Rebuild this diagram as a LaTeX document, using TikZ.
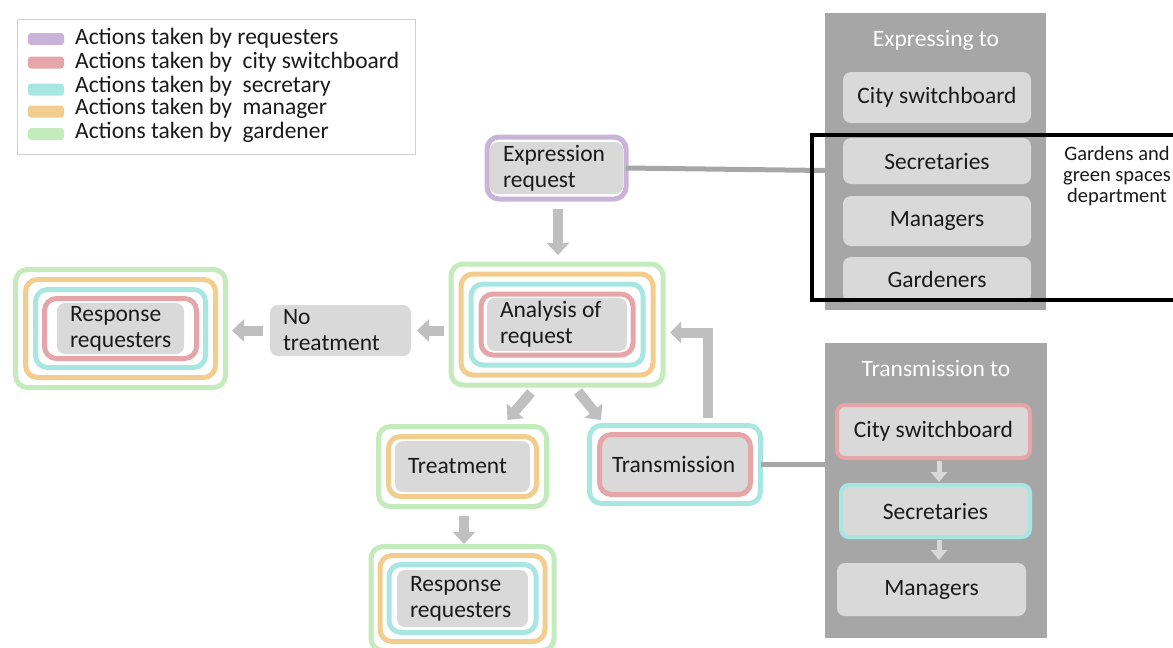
\documentclass[tikz,border=0pt]{standalone}
\usepackage{fontspec}
\setmainfont{Carlito}
\usetikzlibrary{arrows.meta,fit}
\definecolor{cPurple}{HTML}{C9B3D9}
\definecolor{cRed}{HTML}{E6A5A8}
\definecolor{cCyan}{HTML}{A8E6E2}
\definecolor{cOrange}{HTML}{F2CD8D}
\definecolor{cGreen}{HTML}{C4EBBB}
\definecolor{boxgray}{HTML}{D9D9D9}
\definecolor{panelgray}{HTML}{A6A6A6}
\definecolor{arrowgray}{HTML}{BFBFBF}
\definecolor{legendline}{HTML}{D0D0D0}
\definecolor{txt}{HTML}{1A1A1A}
\newcommand\fsMain{\fontsize{23.5}{26}\selectfont}
\newcommand\fsSmall{\fontsize{20.5}{21}\selectfont}
\begin{document}
\begin{tikzpicture}[x=1pt,y=-1pt,font=\fsMain,text=txt,
  gbox/.style={fill=boxgray, rounded corners=8pt, outer sep=0pt, inner ysep=0pt, inner xsep=13pt, align=flush left},
  pbox/.style={fill=boxgray, rounded corners=8pt, outer sep=0pt, inner sep=0pt, minimum width=188pt, align=center},
  ring/.style={draw=#1, line width=5pt, rounded corners=12pt, outer sep=0pt},
  panel/.style={fill=panelgray, outer sep=0pt, inner sep=0pt},
  swatch/.style={fill=#1, rounded corners=3pt, minimum width=36pt, minimum height=12pt, inner sep=0pt},
  legtext/.style={anchor=base west, inner sep=0pt},
  barrow/.style={draw=arrowgray, line width=10pt, -{Triangle[width=22pt,length=12pt]}},
  parrow/.style={draw=boxgray, line width=5pt, -{Triangle[width=16pt,length=10pt]}},
  conn/.style={draw=panelgray, line width=5pt}]
\useasboundingbox (0,0) rectangle (1173,648);

% ---------- legend ----------
\node[draw=legendline, line width=1pt, minimum width=398pt, minimum height=135pt, inner sep=0pt] (legend) at (216,86.5) {};
\node[swatch=cPurple] (sw1) at (46,39) {};
\node[swatch=cRed] (sw2) at (46,62.5) {};
\node[swatch=cCyan] (sw3) at (46,89.5) {};
\node[swatch=cOrange] (sw4) at (46,111.5) {};
\node[swatch=cGreen] (sw5) at (46,134) {};
\node[legtext] (lt1) at (75,44) {Actions taken by requesters};
\node[legtext] (lt2) at (75,68) {Actions taken by~ city switchboard};
\node[legtext] (lt3) at (75,92) {Actions taken by~ secretary};
\node[legtext] (lt4) at (75,114) {Actions taken by~ manager};
\node[legtext] (lt5) at (75,138) {Actions taken by~ gardener};

% ---------- right panels ----------
\node[panel, minimum width=221pt, minimum height=297pt] (expPanel) at (935.5,161.5) {};
\node[text=white, anchor=base] (expTitle) at (936,46) {Expressing to};
\node[pbox, minimum height=51pt] (eCity) at (937,97.5) {City switchboard};
\node[pbox, minimum height=46pt] (eSec) at (937,161) {Secretaries};
\node[pbox, minimum height=50pt] (eMan) at (937,221) {Managers};
\node[pbox, minimum height=45pt] (eGar) at (937,279.5) {Gardeners};

\node[panel, minimum width=222pt, minimum height=295pt] (trPanel) at (936,490.5) {};
\node[text=white, anchor=base] (trTitle) at (936,376) {Transmission to};
\node[pbox, draw=cRed, line width=4pt, minimum width=193pt, minimum height=53pt] (tCity) at (933.5,431.5) {City switchboard};
\node[pbox, draw=cCyan, line width=4pt, minimum width=189pt, minimum height=52pt] (tSec) at (935.5,511) {Secretaries};
\node[pbox, minimum width=189pt, minimum height=53pt] (tMan) at (931.5,589.5) {Managers};
\draw[parrow] ([xshift=5.5pt,yshift=-3pt]tCity.south) -- ([xshift=3.5pt,yshift=3pt]tSec.north);
\draw[parrow] ([xshift=3.5pt,yshift=-3pt]tSec.south) -- ([xshift=7.5pt,yshift=3pt]tMan.north);

% ---------- main flow boxes ----------
\node[gbox, text width=107pt, minimum height=52pt] (expr) at (556.5,168) {Expression\\request};
\node[ring=cPurple, fit=(expr), inner xsep=3pt, inner ysep=5pt] (exprP) {};

\node[gbox, text width=114pt, minimum height=53pt] (ana) at (557,324.5) {Analysis of\\request};
\node[ring=cRed, fit=(ana), inner xsep=6pt, inner ysep=4pt] (anaR) {};
\node[ring=cCyan, fit=(anaR), inner sep=10pt] (anaC) {};
\node[ring=cOrange, fit=(anaC), inner sep=10pt] (anaO) {};
\node[ring=cGreen, fit=(anaO), inner sep=10pt] (anaG) {};

\node[gbox, text width=101pt, minimum height=51pt] (resL) at (120.5,328.5) {Response\\requesters};
\node[ring=cRed, fit=(resL), inner xsep=12.5pt, inner ysep=4.5pt] (resLR) {};
\node[ring=cCyan, fit=(resLR), inner sep=9pt] (resLC) {};
\node[ring=cOrange, fit=(resLC), inner sep=10pt] (resLO) {};
\node[ring=cGreen, fit=(resLO), inner sep=10pt] (resLG) {};

\node[gbox, text width=115pt, minimum height=51pt] (nott) at (340.5,330.5) {No\\treatment};

\node[gbox, text width=109pt, minimum height=51pt] (treat) at (462.5,466.5) {Treatment};
\node[ring=cOrange, fit=(treat), inner xsep=6.5pt, inner ysep=4.5pt] (treatO) {};
\node[ring=cGreen, fit=(treatO), inner sep=10pt] (treatG) {};

\node[gbox, text width=105pt, minimum height=57pt] (resB) at (462.5,598.5) {Response\\requesters};
\node[ring=cCyan, fit=(resB), inner xsep=8pt, inner ysep=5.5pt] (resBC) {};
\node[ring=cOrange, fit=(resBC), inner sep=9pt] (resBO) {};
\node[ring=cGreen, fit=(resBO), inner sep=9pt] (resBG) {};

\node[gbox, inner xsep=10pt, text width=126pt, minimum height=55pt] (trans) at (675,464.5) {Transmission};
\node[ring=cRed, fit=(trans), inner sep=2.5pt] (transR) {};
\node[ring=cCyan, fit=(transR), inner xsep=10pt, inner ysep=9pt] (transC) {};

% ---------- connectors ----------
\draw[conn] (exprP.east) -- ([yshift=-2.5pt]exprP.east -| expPanel.west);
\draw[conn] (transC.east) -- (transC.east -| trPanel.west);

\draw[barrow] ([xshift=1.5pt,yshift=-10pt]exprP.south) -- ([xshift=1.5pt,yshift=9pt]exprP.south |- anaG.north);
\draw[barrow] ([xshift=-7pt]anaG.west |- nott.east) -- ([xshift=6pt]nott.east);
\draw[barrow] ([xshift=-7pt]nott.west) -- ([xshift=6.5pt]resLG.east |- nott.west);
\draw[barrow] ([xshift=-26pt,yshift=-7.5pt]anaG.south) -- ([xshift=45pt,yshift=6.5pt]treatG.north);
\draw[barrow] ([xshift=21pt,yshift=-6.5pt]anaG.south) -- ([xshift=-74pt,yshift=5.5pt]transC.north);
\draw[barrow] ([xshift=1.5pt,yshift=-9.5pt]treatG.south) -- ([xshift=1.5pt,yshift=2.5pt]treatG.south |- resBG.north);
\draw[draw=arrowgray, line width=10pt, -{Triangle[width=21pt,length=11pt]}]
  ([xshift=33pt,yshift=8pt]transC.north) |- ([xshift=7pt,yshift=-8pt]anaG.east);

% ---------- department frame ----------
\draw[line width=4.5pt] (812,135) rectangle (1182,300);
\node[font=\fsSmall, align=center, inner sep=0pt] (dept) at (1117,176) {Gardens and\\green spaces\\department};
\end{tikzpicture}
\end{document}
